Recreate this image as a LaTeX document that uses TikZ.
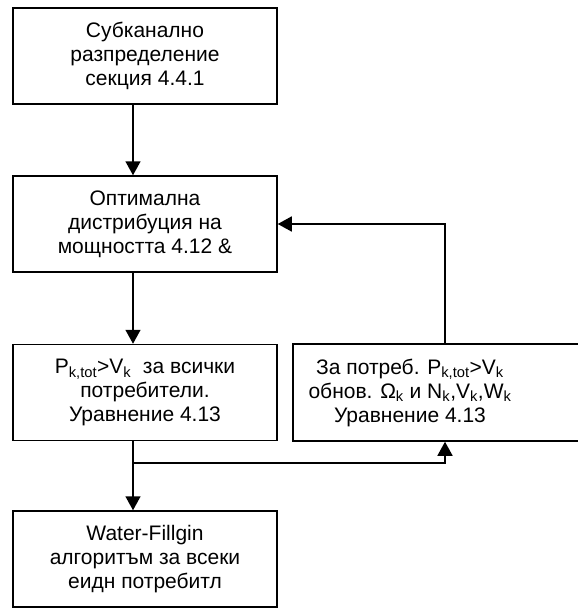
\documentclass[tikz,border=0pt]{standalone}
\usepackage{fontspec}
\setmainfont{Liberation Sans}
\usetikzlibrary{arrows.meta}
\newcommand{\sbs}[1]{\textsubscript{#1}}
\begin{document}
\begin{tikzpicture}[x=1pt,y=-1pt,
  txt/.style={align=center, inner sep=0pt, font=\fontsize{21}{24}\selectfont},
  box/.style={txt, draw=black, line width=1.5pt, rectangle},
  mainbox/.style={box, minimum width=264pt, minimum height=96pt},
  arr/.style={line width=1.5pt, -{Triangle[length=14pt,width=15pt]}},
  ln/.style={line width=1.5pt}]
\useasboundingbox (0,0) rectangle (578,608);
\clip (0,0) rectangle (578,608);
\node[mainbox] (b1) at (145,56) {Субканално\\разпределение\\секция 4.4.1};
\node[mainbox] (b2) at (145,224) {Оптимална\\дистрибуция на\\мощността 4.12 \&};
\node[mainbox] (b3) at (145,392.5) {P\sbs{k,tot}>V\sbs{k}\ \ за всички\\потребители.\\Уравнение 4.13};
\node[mainbox] (b4) at (145,559) {Water-Fillgin\\алгоритъм за всеки\\еидн потребитл};
\node[box, minimum width=400pt, minimum height=97pt] (r) at (493,392.5) {};
\node[txt] (rt) at (410,392.5) {За потреб. P\sbs{k,tot}>V\sbs{k}\\обнов. Ω\sbs{k} и N\sbs{k},V\sbs{k},W\sbs{k}\\Уравнение 4.13};
\coordinate (j) at (133,463);
\coordinate (jr) at (445,463);
\coordinate (t) at (445,224);
\draw[arr] (b1.south -| 133,0) -- (b2.north -| 133,0);
\draw[arr] (b2.south -| 133,0) -- (b3.north -| 133,0);
\draw[arr] (b3.south -| 133,0) -- (b4.north -| 133,0);
\draw[arr] (j) -- (jr) -- (r.south -| jr);
\draw[arr] (r.north -| t) -- (t) -- (b2.east);
\end{tikzpicture}
\end{document}
